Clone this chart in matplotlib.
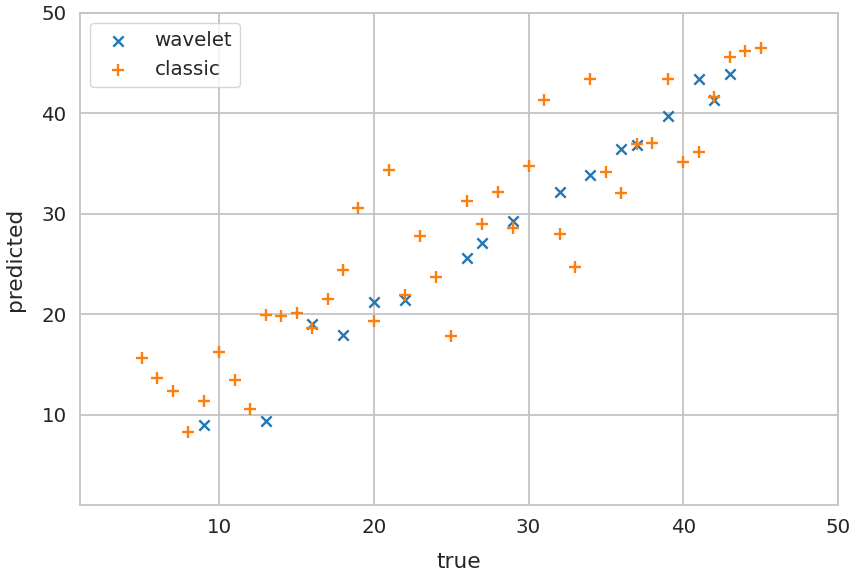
import matplotlib
matplotlib.use("Agg")
import matplotlib.pyplot as plt
import seaborn as sns

wavelet_true = [9, 13, 16, 18, 20, 22, 26, 27, 29, 32, 34, 36, 37, 39, 41, 42, 43]
wavelet_pred = [9.0, 9.4, 19.0, 17.9, 21.2, 21.4, 25.6, 27.1, 29.3, 32.2, 33.9, 36.5, 36.9, 39.7, 43.4, 41.3, 43.9]

classic_true = [5, 6, 7, 8, 9, 10, 11, 12, 13, 14, 15, 16, 17, 18, 19, 20, 21, 22, 23, 24, 25,
                26, 27, 28, 29, 30, 31, 32, 33, 34, 35, 36, 37, 38, 39, 40, 41, 42, 43, 44, 45]
classic_pred = [15.6, 13.6, 12.4, 8.3, 11.4, 16.2, 13.4, 10.6, 19.9, 19.8, 20.1, 18.6, 21.5, 24.4,
                30.6, 19.3, 34.4, 21.9, 27.8, 23.7, 17.8, 31.3, 29.0, 32.2, 28.6, 34.8, 41.3, 28.0,
                24.7, 43.4, 34.2, 32.1, 37.0, 37.1, 43.4, 35.2, 36.2, 41.6, 45.6, 46.2, 46.5]

xticks = [10, 20, 30, 40, 50]
yticks = [10, 20, 30, 40, 50]

sns.set_theme(style="whitegrid", font_scale=1.3,
              rc={"grid.color": "#c4c4c4", "grid.linewidth": 1.3,
                  "axes.edgecolor": "#c4c4c4", "axes.linewidth": 1.3})
plt.rcParams['font.family'] = ['DejaVu Sans']

fig = plt.figure(figsize=(8.59, 5.74), dpi=100)
ax = fig.add_axes([80/859, 1 - 505/574, (838-80)/859, (505-13)/574])

ax.scatter(wavelet_true, wavelet_pred, marker='x', color='#1f77b4', s=55, linewidths=1.7, label='wavelet')
ax.scatter(classic_true, classic_pred, marker='+', color='#ff7f0e', s=65, linewidths=1.7, label='classic')

ax.set_xlim(1, 50)
ax.set_ylim(1, 50)
ax.set_xticks(xticks)
ax.set_yticks(yticks)
ax.set_xlabel('true', labelpad=11)
ax.set_ylabel('predicted', labelpad=12)
ax.legend(loc='upper left', handletextpad=0.85)

fig.savefig('out.png', dpi=100)
